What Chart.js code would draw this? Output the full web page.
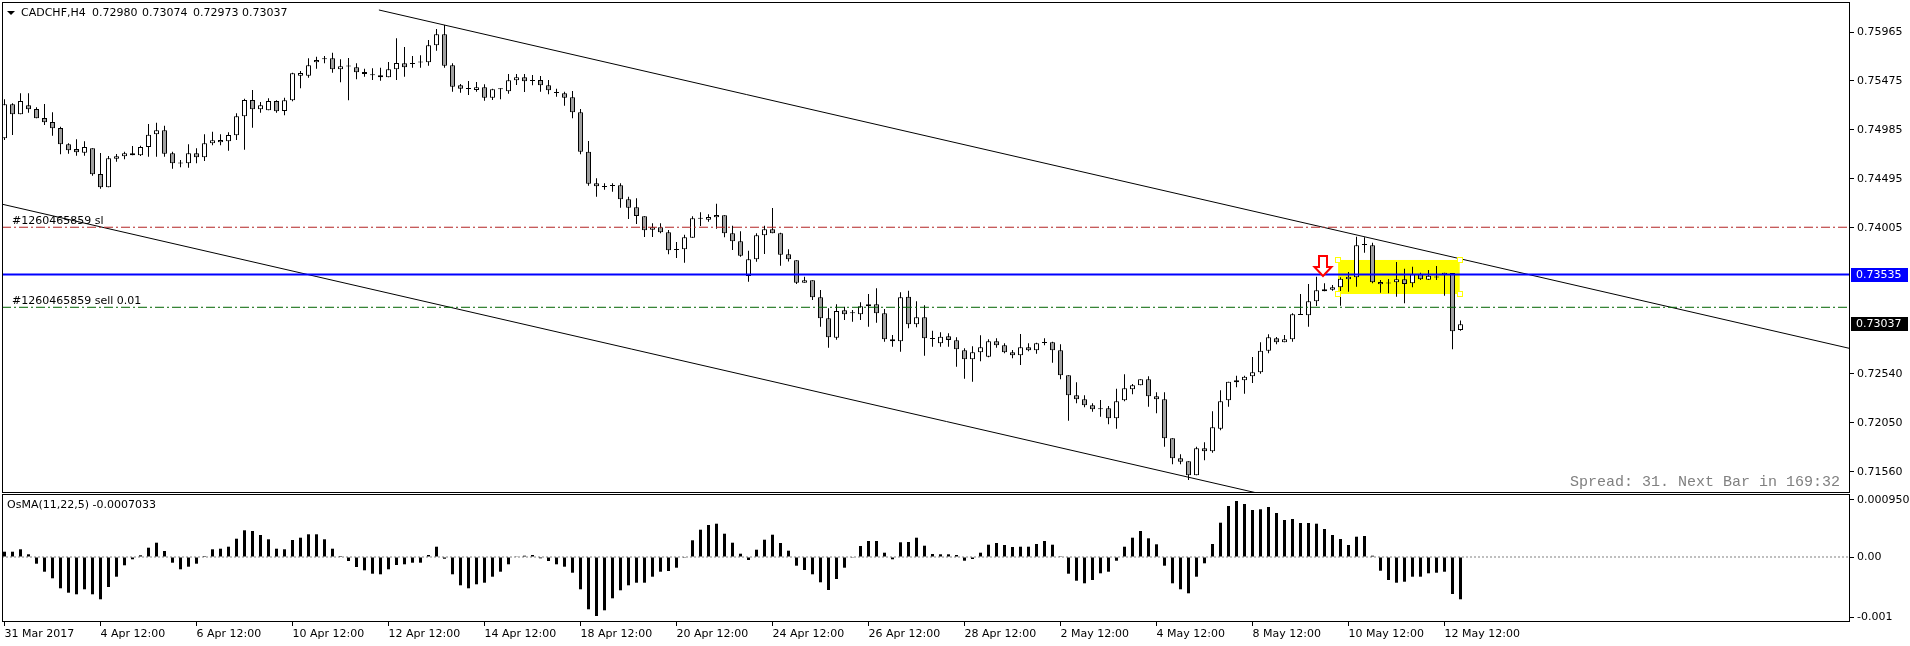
<!DOCTYPE html>
<html>
<head>
<meta charset="utf-8">
<script src="https://cdn.jsdelivr.net/npm/chart.js@4.4.1/dist/chart.umd.min.js"></script>
<style>
  html, body { margin: 0; padding: 0; background: #fff; }
  body { width: 1910px; height: 646px; position: relative; overflow: hidden; font-family: 'DejaVu Sans', sans-serif; }
  canvas { position: absolute; left: 0; }
  #main { top: 0; }
  #osma { top: 493px; }
  .txt { position: absolute; white-space: pre; font-size: 11px; line-height: 13px; color: #000; }
  .tri { position: absolute; left: 7px; top: 11px; width: 0; height: 0;
         border-left: 4px solid transparent; border-right: 4px solid transparent; border-top: 4px solid #000; }
  #spread { position: absolute; left: 1570px; top: 474px; font-family: 'Liberation Mono', monospace;
            font-size: 15px; line-height: 17px; color: #808080; white-space: pre; }
</style>
</head>
<body>
<canvas id="main" width="1910" height="493"></canvas>
<canvas id="osma" width="1910" height="153"></canvas>
<div class="tri"></div>
<div class="txt" style="left:21px;top:6px">CADCHF,H4</div>
<div class="txt" style="left:92px;top:6px">0.72980</div>
<div class="txt" style="left:142px;top:6px">0.73074</div>
<div class="txt" style="left:193px;top:6px">0.72973</div>
<div class="txt" style="left:242px;top:6px">0.73037</div>
<div class="txt" style="left:7px;top:498px">OsMA(11,22,5) -0.0007033</div>
<div id="spread">Spread: 31. Next Bar in 169:32</div>
<script>
// CADCHF H4 candles, 31 Mar 12:00 .. 12 May 20:00 (one entry per bar)
const open = [
0.74900,0.75241,0.75141,0.75231,0.75194,0.75104,0.75064,0.75003,0.74840,0.74793,
0.74756,0.74800,0.74543,0.74409,0.74696,0.74720,0.74750,0.74730,0.74813,0.74940,
0.74980,0.74750,0.74650,0.74650,0.74750,0.74710,0.74850,0.74860,0.74870,0.74930,
0.75121,0.75284,0.75191,0.75181,0.75274,0.75174,0.75281,0.75527,0.75527,0.75662,
0.75692,0.75702,0.75592,0.75622,0.75612,0.75545,0.75534,0.75531,0.75511,0.75592,
0.75652,0.75652,0.75662,0.75662,0.75832,0.75942,0.75632,0.75431,0.75397,0.75384,
0.75411,0.75307,0.75394,0.75371,0.75481,0.75511,0.75477,0.75484,0.75431,0.75357,
0.75351,0.75311,0.75161,0.74766,0.74449,0.74415,0.74425,0.74429,0.74289,0.74209,
0.74119,0.73984,0.74008,0.73958,0.73784,0.73788,0.73904,0.74095,0.74085,0.74109,
0.74129,0.73948,0.73868,0.73520,0.73688,0.73928,0.73988,0.73948,0.73738,0.73678,
0.73453,0.73477,0.73307,0.73097,0.72902,0.73177,0.73150,0.73137,0.73217,0.73237,
0.73147,0.72886,0.72866,0.73313,0.73036,0.73107,0.72892,0.72846,0.72916,0.72876,
0.72776,0.72686,0.72756,0.72712,0.72866,0.72826,0.72756,0.72726,0.72806,0.72776,
0.72852,0.72856,0.72776,0.72525,0.72325,0.72285,0.72225,0.72188,0.72195,0.72095,
0.72275,0.72385,0.72425,0.72485,0.72315,0.72285,0.71894,0.71694,0.71664,0.71523,
0.71794,0.71764,0.71990,0.72275,0.72455,0.72475,0.72515,0.72556,0.72772,0.72896,
0.72856,0.72886,0.73130,0.73127,0.73267,0.73367,0.73383,0.73407,0.73487,0.73507,
0.73834,0.73828,0.73437,0.73447,0.73457,0.73487,0.73447,0.73538,0.73483,0.73507,
0.73530,0.73551,0.72980];
const high = [
0.75291,0.75251,0.75351,0.75351,0.75211,0.75244,0.75161,0.75016,0.74850,0.74890,
0.74870,0.74800,0.74753,0.74723,0.74743,0.74766,0.74823,0.74826,0.75044,0.75057,
0.75026,0.74766,0.74683,0.74840,0.74800,0.74940,0.74966,0.74940,0.74960,0.75151,
0.75297,0.75384,0.75264,0.75301,0.75281,0.75307,0.75558,0.75575,0.75702,0.75718,
0.75725,0.75758,0.75692,0.75705,0.75652,0.75598,0.75602,0.75608,0.75665,0.75902,
0.75815,0.75725,0.75732,0.75885,0.75995,0.76035,0.75652,0.75444,0.75474,0.75464,
0.75441,0.75397,0.75401,0.75545,0.75545,0.75545,0.75534,0.75524,0.75484,0.75397,
0.75367,0.75374,0.75194,0.74873,0.74499,0.74449,0.74449,0.74449,0.74315,0.74299,
0.74119,0.74049,0.74049,0.73981,0.73861,0.73934,0.74119,0.74159,0.74139,0.74245,
0.74129,0.74024,0.73968,0.73774,0.73948,0.74024,0.74202,0.73954,0.73788,0.73678,
0.73513,0.73477,0.73380,0.73197,0.73237,0.73213,0.73180,0.73257,0.73340,0.73397,
0.73190,0.72929,0.73357,0.73373,0.73267,0.73227,0.72972,0.72956,0.72946,0.72906,
0.72796,0.72816,0.72926,0.72886,0.72896,0.72846,0.72779,0.72939,0.72846,0.72852,
0.72896,0.72862,0.72836,0.72525,0.72455,0.72325,0.72245,0.72278,0.72218,0.72391,
0.72536,0.72438,0.72485,0.72515,0.72355,0.72355,0.71894,0.71734,0.71664,0.71810,
0.71854,0.72165,0.72375,0.72461,0.72521,0.72521,0.72709,0.72856,0.72936,0.72909,
0.72929,0.73147,0.73340,0.73440,0.73513,0.73447,0.73430,0.73507,0.73561,0.73914,
0.73908,0.73854,0.73480,0.73490,0.73661,0.73594,0.73614,0.73554,0.73581,0.73621,
0.73554,0.73551,0.73074];
const low = [
0.74883,0.74933,0.75141,0.75157,0.75101,0.75033,0.74926,0.74740,0.74746,0.74726,
0.74726,0.74526,0.74395,0.74409,0.74666,0.74690,0.74730,0.74723,0.74716,0.74716,
0.74716,0.74596,0.74610,0.74606,0.74650,0.74673,0.74830,0.74830,0.74776,0.74883,
0.74786,0.75006,0.75157,0.75181,0.75157,0.75131,0.75271,0.75401,0.75507,0.75598,
0.75652,0.75558,0.75461,0.75281,0.75491,0.75517,0.75484,0.75477,0.75511,0.75484,
0.75517,0.75608,0.75608,0.75628,0.75778,0.75608,0.75367,0.75357,0.75334,0.75367,
0.75277,0.75284,0.75291,0.75347,0.75434,0.75364,0.75431,0.75367,0.75341,0.75317,
0.75227,0.75101,0.74740,0.74425,0.74315,0.74385,0.74365,0.74205,0.74092,0.74042,
0.73911,0.73911,0.73948,0.73738,0.73701,0.73654,0.73904,0.74021,0.74065,0.73994,
0.73908,0.73781,0.73714,0.73463,0.73664,0.73741,0.73948,0.73624,0.73666,0.73440,
0.73453,0.73280,0.73012,0.72802,0.72882,0.73080,0.73063,0.73080,0.73012,0.73053,
0.72862,0.72812,0.72762,0.72996,0.73006,0.72722,0.72812,0.72812,0.72812,0.72612,
0.72491,0.72461,0.72666,0.72706,0.72802,0.72746,0.72696,0.72629,0.72766,0.72742,
0.72826,0.72652,0.72485,0.72071,0.72245,0.72205,0.72161,0.72111,0.72035,0.71990,
0.72265,0.72335,0.72425,0.72211,0.72145,0.71810,0.71634,0.71634,0.71476,0.71523,
0.71674,0.71750,0.71974,0.72211,0.72405,0.72341,0.72448,0.72542,0.72746,0.72836,
0.72856,0.72862,0.73130,0.73012,0.73220,0.73367,0.73373,0.73223,0.73363,0.73413,
0.73754,0.73447,0.73353,0.73347,0.73313,0.73247,0.73407,0.73480,0.73480,0.73480,
0.73323,0.72786,0.72973];
const close = [
0.75241,0.75141,0.75274,0.75191,0.75101,0.75061,0.75000,0.74840,0.74780,0.74760,
0.74813,0.74540,0.74409,0.74700,0.74720,0.74750,0.74730,0.74813,0.74936,0.74980,
0.74746,0.74650,0.74648,0.74750,0.74710,0.74850,0.74880,0.74883,0.74933,0.75121,
0.75284,0.75191,0.75231,0.75274,0.75171,0.75281,0.75552,0.75555,0.75632,0.75685,
0.75702,0.75592,0.75622,0.75620,0.75562,0.75565,0.75532,0.75511,0.75592,0.75655,
0.75612,0.75645,0.75660,0.75832,0.75942,0.75628,0.75417,0.75397,0.75395,0.75411,
0.75307,0.75391,0.75392,0.75481,0.75511,0.75471,0.75475,0.75431,0.75381,0.75355,
0.75307,0.75161,0.74766,0.74445,0.74419,0.74413,0.74423,0.74289,0.74205,0.74122,
0.73978,0.74008,0.73958,0.73778,0.73782,0.73908,0.74099,0.74093,0.74112,0.74132,
0.73948,0.73868,0.73724,0.73688,0.73928,0.73988,0.73948,0.73734,0.73688,0.73453,
0.73477,0.73307,0.73097,0.72906,0.73170,0.73137,0.73148,0.73217,0.73237,0.73147,
0.72886,0.72866,0.73307,0.73036,0.73107,0.72896,0.72890,0.72912,0.72879,0.72786,
0.72686,0.72756,0.72806,0.72866,0.72826,0.72756,0.72726,0.72806,0.72776,0.72846,
0.72850,0.72776,0.72525,0.72325,0.72285,0.72225,0.72185,0.72186,0.72095,0.72265,
0.72395,0.72425,0.72485,0.72315,0.72285,0.71894,0.71694,0.71660,0.71523,0.71794,
0.71764,0.72004,0.72265,0.72461,0.72475,0.72511,0.72556,0.72772,0.72906,0.72856,
0.72886,0.73137,0.73132,0.73267,0.73377,0.73387,0.73407,0.73493,0.73513,0.73828,
0.73832,0.73457,0.73460,0.73445,0.73487,0.73440,0.73538,0.73487,0.73523,0.73505,
0.73554,0.72966,0.73037];

// OsMA(11,22,5) histogram, same bars
const osma = [
0.0000881,0.0000881,0.0001281,0.0000449,-0.0001114,-0.0002445,-0.0003542,-0.0005205,-0.0005937,-0.0006203,
-0.0005371,-0.0006203,-0.0007034,-0.0004989,-0.0003276,-0.0001380,-0.0000382,0.0000283,0.0001547,0.0002378,
0.0000998,-0.0000948,-0.0002045,-0.0001613,-0.0001114,0.0000166,0.0001281,0.0001380,0.0001713,0.0003043,
0.0004440,0.0004324,0.0003659,0.0002944,0.0001380,0.0001281,0.0002827,0.0003210,0.0003775,0.0003775,
0.0002944,0.0001380,0.0000166,-0.0000665,-0.0001663,-0.0002212,-0.0002777,-0.0002877,-0.0002045,-0.0001330,
-0.0001214,-0.0000948,-0.0000948,0.0000333,0.0001713,-0.0000283,-0.0002877,-0.0004706,-0.0005205,-0.0004540,
-0.0004274,-0.0003276,-0.0002445,-0.0001214,0.0000050,0.0000216,0.0000333,-0.0000216,-0.0000665,-0.0001214,
-0.0001613,-0.0002611,-0.0005371,-0.0008697,-0.0009812,-0.0008864,-0.0006868,-0.0005538,-0.0004706,-0.0004274,
-0.0004274,-0.0003276,-0.0002445,-0.0002328,-0.0001779,-0.0000030,0.0002777,0.0004540,0.0005322,0.0005538,
0.0003875,0.0002378,0.0000549,-0.0000499,0.0001214,0.0002877,0.0003708,0.0002328,0.0001048,-0.0001447,
-0.0002162,-0.0002877,-0.0004207,-0.0005488,-0.0003659,-0.0001779,-0.0000040,0.0001829,0.0002661,0.0002661,
0.0000715,-0.0000382,0.0002445,0.0002495,0.0003210,0.0001879,0.0000499,0.0000449,0.0000449,0.0000333,
-0.0000615,-0.0000333,0.0000715,0.0002045,0.0002328,0.0001996,0.0001663,0.0001713,0.0001713,0.0002162,
0.0002661,0.0002045,0.0000030,-0.0002777,-0.0003941,-0.0004374,-0.0003825,-0.0002711,-0.0002445,-0.0000615,
0.0001713,0.0003210,0.0004324,0.0003110,0.0002112,-0.0001447,-0.0004374,-0.0005371,-0.0006037,-0.0003276,
-0.0001048,0.0002162,0.0005704,0.0008481,0.0009313,0.0008814,0.0007816,0.0007933,0.0008315,0.0007317,
0.0006153,0.0006319,0.0005654,0.0005654,0.0005538,0.0004656,0.0003659,0.0002993,0.0001996,0.0003376,
0.0003492,0.0000216,-0.0002278,-0.0003825,-0.0004274,-0.0004108,-0.0003276,-0.0003276,-0.0002711,-0.0002611,
-0.0002445,-0.0006153,-0.0007033];

const tickBars = [0, 12, 24, 36, 48, 60, 72, 84, 96, 108, 120, 132, 144, 156, 168, 180];
const tickLabels = ['31 Mar 2017', '4 Apr 12:00', '6 Apr 12:00', '10 Apr 12:00', '12 Apr 12:00',
  '14 Apr 12:00', '18 Apr 12:00', '20 Apr 12:00', '24 Apr 12:00', '26 Apr 12:00', '28 Apr 12:00',
  '2 May 12:00', '4 May 12:00', '8 May 12:00', '10 May 12:00', '12 May 12:00'];
const priceTicks = [0.75965, 0.75475, 0.74985, 0.74495, 0.74005, 0.72540, 0.72050, 0.71560];
const osmaTicks = [0.0009506, 0, -0.001];
const osmaTickLabels = ['0.0009506', '0.00', '-0.001'];

// order lines and chart objects (bar index, price)
const slPrice = 0.74009;
const entryPrice = 0.73207;
const levelPrice = 0.73535;
const bidPrice = 0.73037;
const upperChannel = [[46.8, 0.76186], [230.7, 0.72794]];
const lowerChannel = [[-0.3, 0.74240], [162, 0.71246]];
const zoneBars = [166.7, 181.9];
const zonePrices = [0.73681, 0.73340];
const arrowAt = [165, 0.73521];

const barRange = [-0.3125, 230.6875];
const priceRange = [0.713461, 0.762660];
const osmaRange = [-0.00108095, 0.00104769];

Chart.defaults.font.family = "'DejaVu Sans', sans-serif";
Chart.defaults.font.size = 11;
Chart.defaults.color = '#000';

const candleBodies = open.map((o, i) => ({x: i, y: [o, close[i]]}));
const candleWicks = high.map((h, i) => ({x: i, y: [low[i], h]}));
const bodyColors = open.map((o, i) => close[i] > o ? '#ffffff' : '#a0a0a0');

const hline = (price, color, width, dash) => ({
  type: 'line',
  data: [{x: barRange[0], y: price}, {x: barRange[1], y: price}],
  borderColor: color, borderWidth: width, borderDash: dash || [],
  pointRadius: 0, order: 0
});
const tline = pts => ({
  type: 'line',
  data: pts.map(p => ({x: p[0], y: p[1]})),
  borderColor: '#000', borderWidth: 1, pointRadius: 0, order: 0
});

const noPad = s => { s.paddingLeft = 0; s.paddingRight = 0; s.paddingTop = 0; s.paddingBottom = 0; };

const mainDecor = {
  id: 'mainDecor',
  beforeDatasetsDraw(chart) {
    const {ctx, scales: {x, y}} = chart;
    const x1 = x.getPixelForValue(zoneBars[0]), x2 = x.getPixelForValue(zoneBars[1]);
    const y1 = y.getPixelForValue(zonePrices[0]), y2 = y.getPixelForValue(zonePrices[1]);
    ctx.save();
    ctx.fillStyle = '#ffff00';
    ctx.fillRect(x1, y1, x2 - x1, y2 - y1);
    ctx.restore();
  },
  afterDatasetsDraw(chart) {
    const {ctx, scales: {x, y}} = chart;
    // zone handles
    const x1 = x.getPixelForValue(zoneBars[0]), x2 = x.getPixelForValue(zoneBars[1]);
    const y1 = y.getPixelForValue(zonePrices[0]), y2 = y.getPixelForValue(zonePrices[1]);
    ctx.save();
    ctx.strokeStyle = '#ffff00';
    ctx.fillStyle = '#ffffff';
    ctx.lineWidth = 1;
    [[x1, y1], [x2, y1], [x1, y2], [x2, y2]].forEach(p => {
      ctx.fillRect(Math.round(p[0]) - 2, Math.round(p[1]) - 2, 4, 4);
      ctx.strokeRect(Math.round(p[0]) - 2.5, Math.round(p[1]) - 2.5, 5, 5);
    });
    // down arrow
    const ax = x.getPixelForValue(arrowAt[0]) - 1.5, ay = y.getPixelForValue(arrowAt[1]);
    ctx.beginPath();
    ctx.moveTo(ax - 4, ay - 20);
    ctx.lineTo(ax + 4, ay - 20);
    ctx.lineTo(ax + 4, ay - 9);
    ctx.lineTo(ax + 8.5, ay - 9);
    ctx.lineTo(ax, ay);
    ctx.lineTo(ax - 8.5, ay - 9);
    ctx.lineTo(ax - 4, ay - 9);
    ctx.closePath();
    ctx.fillStyle = '#ffffff';
    ctx.fill();
    ctx.strokeStyle = '#ff0000';
    ctx.lineWidth = 2;
    ctx.stroke();
    // order labels
    ctx.fillStyle = '#000';
    ctx.font = "11px 'DejaVu Sans'";
    ctx.textBaseline = 'middle';
    ctx.textAlign = 'left';
    ctx.fillText('#1260465859 sl', 12, y.getPixelForValue(slPrice) - 6.5);
    ctx.fillText('#1260465859 sell 0.01', 12, y.getPixelForValue(entryPrice) - 6.5);
    ctx.restore();
  },
  afterDraw(chart) {
    const {ctx, chartArea: a, scales: {y}} = chart;
    ctx.save();
    ctx.strokeStyle = '#000';
    ctx.lineWidth = 1;
    ctx.strokeRect(a.left + 0.5, a.top + 0.5, a.right - a.left - 1, a.bottom - a.top - 1);
    ctx.font = "11px 'DejaVu Sans'";
    ctx.textBaseline = 'middle';
    [[levelPrice, '#0000ff'], [bidPrice, '#000000']].forEach(([v, c]) => {
      const py = Math.round(y.getPixelForValue(v));
      ctx.fillStyle = c;
      ctx.fillRect(a.right + 1, py - 7, 57, 14);
      ctx.fillStyle = '#fff';
      ctx.fillText(v.toFixed(5), a.right + 6, py);
    });
    ctx.restore();
  }
};

new Chart(document.getElementById('main'), {
  type: 'bar',
  data: {
    datasets: [
      hline(levelPrice, '#0000ff', 2),
      hline(slPrice, '#b22222', 1, [9, 3, 2, 3]),
      hline(entryPrice, '#006400', 1, [9, 3, 2, 3]),
      tline(upperChannel),
      tline(lowerChannel),
      {
        data: candleBodies, backgroundColor: bodyColors, borderColor: '#000', borderWidth: 1,
        borderSkipped: false, barThickness: 5, minBarLength: 1, grouped: false, inflateAmount: 0, order: 1
      },
      {
        data: candleWicks, backgroundColor: '#000', borderWidth: 0,
        barThickness: 1, minBarLength: 1, grouped: false, inflateAmount: 0, order: 2
      }
    ]
  },
  options: {
    responsive: false, animation: false, devicePixelRatio: 1, events: [],
    layout: {padding: {left: 2, top: 2, right: 0, bottom: 0}},
    plugins: {legend: {display: false}, tooltip: {enabled: false}},
    scales: {
      x: {type: 'linear', display: false, min: barRange[0], max: barRange[1], offset: false},
      y: {
        type: 'linear', position: 'right', min: priceRange[0], max: priceRange[1], bounds: 'data',
        grid: {drawOnChartArea: false, drawTicks: true, tickLength: 4, color: '#000'},
        border: {display: false},
        ticks: {padding: 3, callback: v => v.toFixed(5), font: {size: 11}},
        afterBuildTicks: s => { s.ticks = priceTicks.map(v => ({value: v})); },
        afterFit: s => { s.width = 60; noPad(s); }
      }
    }
  },
  plugins: [mainDecor]
});

const osmaDecor = {
  id: 'osmaDecor',
  afterDraw(chart) {
    const {ctx, chartArea: a} = chart;
    ctx.save();
    ctx.strokeStyle = '#000';
    ctx.lineWidth = 1;
    ctx.strokeRect(a.left + 0.5, a.top + 0.5, a.right - a.left - 1, a.bottom - a.top - 1);
    ctx.restore();
  }
};

new Chart(document.getElementById('osma'), {
  type: 'bar',
  data: {
    datasets: [
      {
        type: 'line',
        data: [{x: barRange[0], y: 0}, {x: barRange[1], y: 0}],
        borderColor: '#808080', borderWidth: 1, borderDash: [2, 2], pointRadius: 0, order: 1
      },
      {
        data: osma.map((v, i) => ({x: i, y: v})), backgroundColor: '#000', borderWidth: 0,
        barThickness: 3, grouped: false, inflateAmount: 0, order: 0
      }
    ]
  },
  options: {
    responsive: false, animation: false, devicePixelRatio: 1, events: [],
    layout: {padding: {left: 2, top: 1, right: 0, bottom: 0}},
    plugins: {legend: {display: false}, tooltip: {enabled: false}},
    scales: {
      x: {
        type: 'linear', min: barRange[0], max: barRange[1], offset: false,
        grid: {drawOnChartArea: false, drawTicks: true, tickLength: 4, color: '#000', offset: false},
        border: {display: false},
        ticks: {
          align: 'start', padding: 2, autoSkip: false, maxRotation: 0, font: {size: 11},
          callback: v => tickLabels[tickBars.indexOf(v)]
        },
        afterBuildTicks: s => { s.ticks = tickBars.map(v => ({value: v})); },
        afterFit: s => { s.height = 24; noPad(s); }
      },
      y: {
        type: 'linear', position: 'right', min: osmaRange[0], max: osmaRange[1], bounds: 'data',
        grid: {drawOnChartArea: false, drawTicks: true, tickLength: 4, color: '#000'},
        border: {display: false},
        ticks: {padding: 3, font: {size: 11}, callback: v => osmaTickLabels[osmaTicks.indexOf(v)]},
        afterBuildTicks: s => { s.ticks = osmaTicks.map(v => ({value: v})); },
        afterFit: s => { s.width = 60; noPad(s); }
      }
    }
  },
  plugins: [osmaDecor]
});
</script>
</body>
</html>
